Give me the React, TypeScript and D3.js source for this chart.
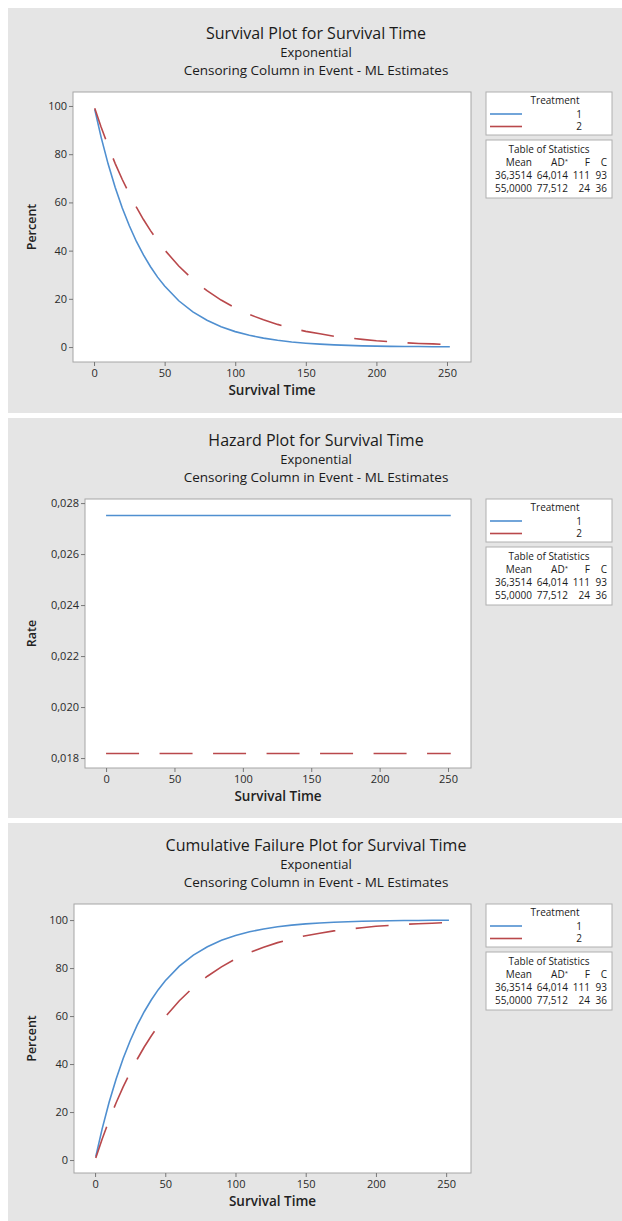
import { axisBottom, axisLeft, format, line, scaleLinear, select } from "d3";
import { useEffect, useRef } from "react";

// values
const times = [0.5, 5, 10, 15, 20, 25, 30, 35, 40, 45, 50, 60, 70, 80, 90, 100, 110, 120, 130, 140, 150, 160, 170, 180, 190, 200, 210, 220, 230, 240, 252];
const survival1 = [98.6, 87.1, 75.9, 66.2, 57.7, 50.3, 43.8, 38.2, 33.3, 29.0, 25.3, 19.2, 14.6, 11.1, 8.4, 6.4, 4.9, 3.7, 2.8, 2.1, 1.6, 1.2, 0.9, 0.7, 0.5, 0.4, 0.3, 0.2, 0.2, 0.1, 0.1];
const survival2 = [99.1, 91.3, 83.4, 76.1, 69.5, 63.5, 58.0, 52.9, 48.3, 44.1, 40.3, 33.6, 28.0, 23.4, 19.5, 16.2, 13.5, 11.3, 9.4, 7.8, 6.5, 5.5, 4.5, 3.8, 3.2, 2.6, 2.2, 1.8, 1.5, 1.3, 1.0];
const failure1 = [1.4, 12.9, 24.1, 33.8, 42.3, 49.7, 56.2, 61.8, 66.7, 71.0, 74.7, 80.8, 85.4, 88.9, 91.6, 93.6, 95.1, 96.3, 97.2, 97.9, 98.4, 98.8, 99.1, 99.3, 99.5, 99.6, 99.7, 99.8, 99.8, 99.9, 99.9];
const failure2 = [0.9, 8.7, 16.6, 23.9, 30.5, 36.5, 42.0, 47.1, 51.7, 55.9, 59.7, 66.4, 72.0, 76.6, 80.5, 83.8, 86.5, 88.7, 90.6, 92.2, 93.5, 94.5, 95.5, 96.2, 96.8, 97.4, 97.8, 98.2, 98.5, 98.7, 99.0];
const hazardTimes = [0, 252];
const hazard1 = [0.02751, 0.02751];
const hazard2 = [0.01818, 0.01818];

const treatments = ["1", "2"];
const statsHeader = ["Mean", "AD*", "F", "C"];
const statsRows = [
  ["36,3514", "64,014", "111", "93"],
  ["55,0000", "77,512", "24", "36"],
];
const timeTicks = [0, 50, 100, 150, 200, 250];
const percentTicks = [0, 20, 40, 60, 80, 100];
const rateTicks = [0.018, 0.02, 0.022, 0.024, 0.026, 0.028];

const titles = [
  "Survival Plot for Survival Time",
  "Hazard Plot for Survival Time",
  "Cumulative Failure Plot for Survival Time",
];
const subtitle1 = "Exponential";
const subtitle2 = "Censoring Column in Event - ML Estimates";

const FONT = "'Open Sans', 'Noto Sans', sans-serif";
const BLUE = "#4f8fd0";
const RED = "#b9484b";
const DASH = "33,20.5";

type Panel = {
  title: string;
  top: number;
  bottom: number;
  frame: { x0: number; x1: number; y0: number; y1: number };
  xDomain: [number, number];
  yDomain: [number, number];
  yTicks: number[];
  yFormat: (d: number) => string;
  yLabel: string;
  xs: number[];
  s1: number[];
  s2: number[];
};

const pct = (d: number) => String(d);
const rate = (d: number) => format(".3f")(d).replace(".", ",");

const panels: Panel[] = [
  {
    title: titles[0],
    top: 8,
    bottom: 413,
    frame: { x0: 73, x1: 471, y0: 92, y1: 362 },
    xDomain: [-14.9, 267],
    yDomain: [-6.2, 105.8],
    yTicks: percentTicks,
    yFormat: pct,
    yLabel: "Percent",
    xs: times,
    s1: survival1,
    s2: survival2,
  },
  {
    title: titles[1],
    top: 418,
    bottom: 818,
    frame: { x0: 85, x1: 471, y0: 499, y1: 768 },
    xDomain: [-15.4, 266.8],
    yDomain: [0.01761, 0.02816],
    yTicks: rateTicks,
    yFormat: rate,
    yLabel: "Rate",
    xs: hazardTimes,
    s1: hazard1,
    s2: hazard2,
  },
  {
    title: titles[2],
    top: 823,
    bottom: 1230,
    frame: { x0: 74, x1: 471, y0: 904, y1: 1173 },
    xDomain: [-15, 267.7],
    yDomain: [-5.4, 106.7],
    yTicks: percentTicks,
    yFormat: pct,
    yLabel: "Percent",
    xs: times,
    s1: failure1,
    s2: failure2,
  },
];

function drawPanel(svg: any, p: Panel) {
  const { frame } = p;
  const g = svg.append("g");

  g.append("rect")
    .attr("x", 8)
    .attr("y", p.top)
    .attr("width", 622)
    .attr("height", p.bottom - p.top)
    .attr("fill", "#e5e5e5");

  // titles
  const cx = 316;
  const tl = [
    { t: p.title, dy: -59, size: 16 },
    { t: subtitle1, dy: -40, size: 13 },
    { t: subtitle2, dy: -22, size: 13.5 },
  ];
  tl.forEach((d) => {
    g.append("text")
      .attr("x", cx)
      .attr("y", frame.y0 + d.dy)
      .attr("dy", "0.35em")
      .attr("text-anchor", "middle")
      .attr("font-family", FONT)
      .attr("font-size", d.size)
      .attr("fill", "#1a1a1a")
      .text(d.t);
  });

  g.append("rect")
    .attr("x", frame.x0)
    .attr("y", frame.y0)
    .attr("width", frame.x1 - frame.x0)
    .attr("height", frame.y1 - frame.y0)
    .attr("fill", "#fff")
    .attr("stroke", "#a6a6a6");

  const x = scaleLinear().domain(p.xDomain).range([frame.x0, frame.x1]);
  const y = scaleLinear().domain(p.yDomain).range([frame.y1, frame.y0]);

  const xAxis = axisBottom(x).tickValues(timeTicks).tickSize(4).tickPadding(3).tickFormat((d: any) => String(d));
  const yAxis = axisLeft(y).tickValues(p.yTicks).tickSize(4).tickPadding(2).tickFormat((d: any) => p.yFormat(d));

  const ax = g.append("g").attr("transform", `translate(0,${frame.y1})`).call(xAxis);
  const ay = g.append("g").attr("transform", `translate(${frame.x0},0)`).call(yAxis);
  [ax, ay].forEach((a) => {
    a.select(".domain").remove();
    a.selectAll("line").attr("stroke", "#777");
    a.selectAll("text").attr("font-family", FONT).attr("font-size", 11).attr("fill", "#2a2a2a");
  });

  g.append("text")
    .attr("x", (frame.x0 + frame.x1) / 2)
    .attr("y", frame.y1 + 28)
    .attr("dy", "0.35em")
    .attr("text-anchor", "middle")
    .attr("font-family", FONT)
    .attr("font-size", 13.5)
    .attr("font-weight", 600)
    .attr("fill", "#222")
    .text("Survival Time");

  g.append("text")
    .attr("transform", `translate(32,${(frame.y0 + frame.y1) / 2}) rotate(-90)`)
    .attr("dy", "0.35em")
    .attr("text-anchor", "middle")
    .attr("font-family", FONT)
    .attr("font-size", 12.5)
    .attr("font-weight", 600)
    .attr("fill", "#222")
    .text(p.yLabel);

  const gen = line<number>()
    .x((_, i) => x(p.xs[i]))
    .y((d) => y(d));

  g.append("path")
    .attr("d", gen(p.s1))
    .attr("fill", "none")
    .attr("stroke", BLUE)
    .attr("stroke-width", 1.6);
  g.append("path")
    .attr("d", gen(p.s2))
    .attr("fill", "none")
    .attr("stroke", RED)
    .attr("stroke-width", 1.6)
    .attr("stroke-dasharray", DASH);

  // legend
  const lx0 = 486;
  const lx1 = 612;
  const ly = frame.y0;
  g.append("rect")
    .attr("x", lx0)
    .attr("y", ly)
    .attr("width", lx1 - lx0)
    .attr("height", 43)
    .attr("fill", "#fff")
    .attr("stroke", "#b0b0b0");
  g.append("rect")
    .attr("x", lx0)
    .attr("y", ly + 48)
    .attr("width", lx1 - lx0)
    .attr("height", 58)
    .attr("fill", "#fff")
    .attr("stroke", "#b0b0b0");

  const txt = (tx: number, ty: number, s: string, anchor: string) =>
    g.append("text")
      .attr("x", tx)
      .attr("y", ty)
      .attr("dy", "0.35em")
      .attr("text-anchor", anchor)
      .attr("font-family", FONT)
      .attr("font-size", 10)
      .attr("fill", "#1a1a1a")
      .text(s);

  txt(555, ly + 8.5, "Treatment", "middle");
  treatments.forEach((t, i) => {
    const yy = ly + 22 + i * 12.5;
    g.append("line")
      .attr("x1", 490)
      .attr("x2", 522)
      .attr("y1", yy)
      .attr("y2", yy)
      .attr("stroke", i === 0 ? BLUE : RED)
      .attr("stroke-width", 1.6);
    txt(582, yy, t, "end");
  });

  txt(549, ly + 57.5, "Table of Statistics", "middle");
  const colX = [532, 568, 590, 607];
  statsHeader.forEach((h, j) => {
    const el = txt(colX[j], ly + 70.5, "", "end");
    if (h === "AD*") {
      el.append("tspan").text("AD");
      el.append("tspan").attr("font-size", 6).attr("dy", "-0.5em").text("*");
    } else el.text(h);
  });
  statsRows.forEach((row, i) => {
    row.forEach((v, j) => txt(colX[j], ly + 83.5 + i * 13, v, "end"));
  });
}

const App = () => {
  const ref = useRef<SVGSVGElement>(null);

  useEffect(() => {
    if (!ref.current) return;
    const svg = select(ref.current);
    svg.selectAll("*").remove();
    panels.forEach((p) => drawPanel(svg, p));
  }, []);

  return (
    <svg
      ref={ref}
      width={622}
      height={1221}
      style={{ position: "absolute", left: 0, top: 0, background: "#fff" }}
    />
  );
};

export default App;
